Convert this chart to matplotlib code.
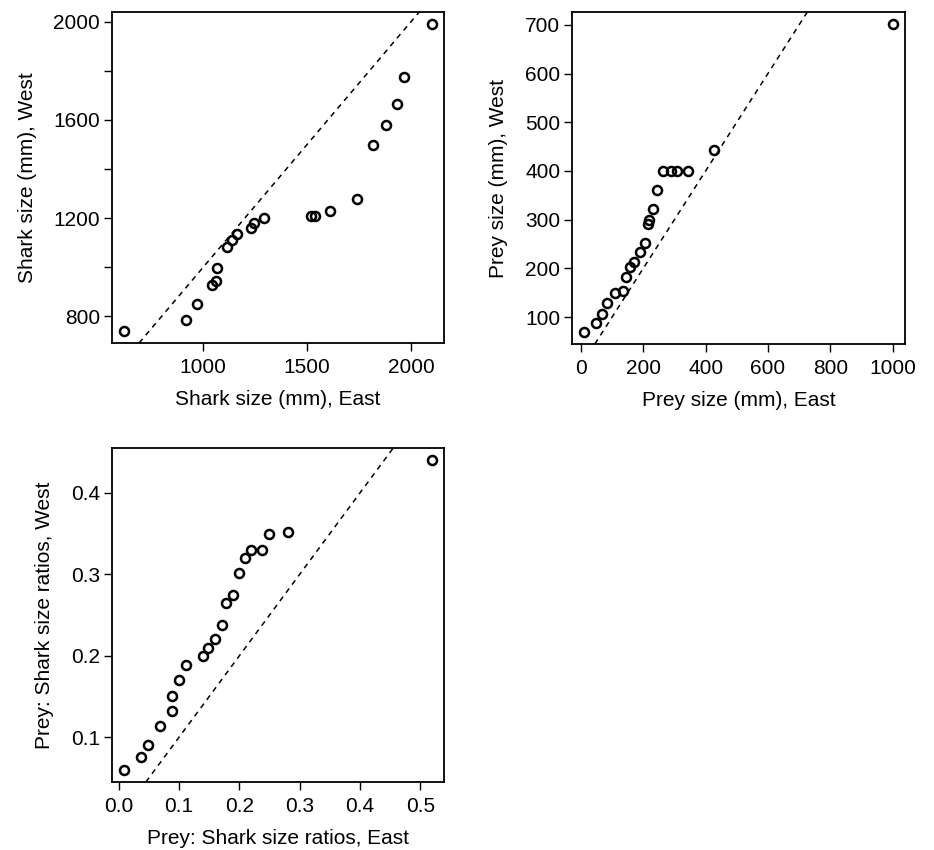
import matplotlib
matplotlib.use("Agg")
import matplotlib.pyplot as plt

plt.rcParams['font.family'] = ['Liberation Sans', 'DejaVu Sans']

# Quantiles of shark length (mm), East vs West
shark_east = [621, 920, 970, 1042, 1061, 1067, 1113, 1137, 1165, 1228, 1244,
              1294, 1518, 1540, 1610, 1740, 1819, 1879, 1930, 1968, 2099]
shark_west = [742, 786, 851, 928, 945, 997, 1081, 1111, 1134, 1158, 1180,
              1200, 1207, 1209, 1228, 1277, 1496, 1580, 1665, 1773, 1989]

# Quantiles of prey length (mm), East vs West
prey_east = [11, 48, 68, 84, 109, 136, 146, 158, 169, 191, 207,
             216, 218, 231, 245, 262, 289, 308, 345, 427, 1000]
prey_west = [70, 88, 106, 129, 150, 154, 182, 202, 214, 233, 253,
             292, 300, 322, 360, 400, 400, 400, 400, 443, 701]

# Quantiles of prey:shark size ratios, East vs West
ratio_east = [0.009, 0.036, 0.049, 0.069, 0.088, 0.088, 0.099, 0.111, 0.139,
              0.148, 0.159, 0.171, 0.178, 0.190, 0.199, 0.209, 0.219, 0.238,
              0.249, 0.280, 0.519]
ratio_west = [0.060, 0.076, 0.090, 0.114, 0.132, 0.150, 0.170, 0.188, 0.200,
              0.210, 0.220, 0.238, 0.265, 0.274, 0.301, 0.320, 0.330, 0.330,
              0.350, 0.352, 0.440]

shark_xticks = [1000, 1500, 2000]
shark_yticks = [800, 1000, 1200, 1400, 1600, 1800, 2000]
shark_ytick_labels = ["800", "", "1200", "", "1600", "", "2000"]
prey_xticks = [0, 200, 400, 600, 800, 1000]
prey_yticks = [100, 200, 300, 400, 500, 600, 700]
ratio_xticks = [0.0, 0.1, 0.2, 0.3, 0.4, 0.5]
ratio_yticks = [0.1, 0.2, 0.3, 0.4]

W, H = 934, 850
fig = plt.figure(figsize=(W / 100, H / 100), dpi=100)


def padded(vals, frac=0.04):
    lo, hi = min(vals), max(vals)
    d = (hi - lo) * frac
    return lo - d, hi + d


def add_panel(rect_px, xs, ys, xlabel, ylabel, xticks, yticks,
              xticklabels=None, yticklabels=None):
    x0, y0, x1, y1 = rect_px
    ax = fig.add_axes([x0 / W, 1 - y1 / H, (x1 - x0) / W, (y1 - y0) / H])
    ax.plot(xs, ys, linestyle='none', marker='o', markersize=6.5,
            markerfacecolor='none', markeredgecolor='black',
            markeredgewidth=1.8)
    ax.set_xlim(*padded(xs))
    ax.set_ylim(*padded(ys))
    ax.set_autoscale_on(False)
    ax.axline((0, 0), slope=1, color='black', lw=1.1,
              linestyle=(0, (3.5, 3.2)))
    ax.set_xticks(xticks)
    ax.set_yticks(yticks)
    if xticklabels is not None:
        ax.set_xticklabels(xticklabels)
    if yticklabels is not None:
        ax.set_yticklabels(yticklabels)
    ax.tick_params(direction='out', length=5.5, width=1.0, labelsize=15,
                   colors='black')
    ax.tick_params(axis='x', pad=5)
    ax.tick_params(axis='y', pad=3)
    ax.set_xlabel(xlabel, fontsize=15, labelpad=10)
    ax.set_ylabel(ylabel, fontsize=15, labelpad=12)
    for s in ax.spines.values():
        s.set_linewidth(1.3)
    return ax


add_panel((112, 12, 444, 343), shark_east, shark_west,
          "Shark size (mm), East", "Shark size (mm), West",
          shark_xticks, shark_yticks, yticklabels=shark_ytick_labels)
add_panel((572, 12, 905, 344), prey_east, prey_west,
          "Prey size (mm), East", "Prey size (mm), West",
          prey_xticks, prey_yticks)
add_panel((112, 448, 444, 782), ratio_east, ratio_west,
          "Prey: Shark size ratios, East", "Prey: Shark size ratios, West",
          ratio_xticks, ratio_yticks)

fig.savefig("out.png", dpi=100)
